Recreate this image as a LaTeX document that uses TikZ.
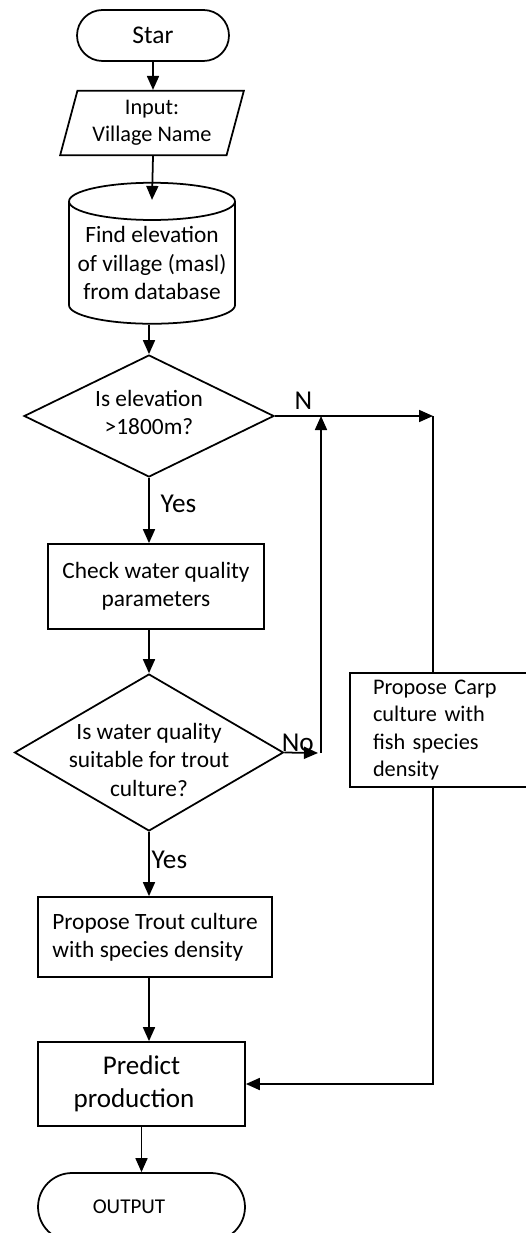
\documentclass[tikz,border=0pt]{standalone}
\usepackage{fontspec}
\setmainfont{Carlito}
\usetikzlibrary{shapes.geometric,shapes.misc,arrows.meta}
% text in a decision box should not make the box grow
\newcommand{\dtext}[2]{\makebox[0pt]{\smash{\raisebox{#1}{\begin{tabular}{@{}c@{}}#2\end{tabular}}}}}

\begin{document}
\begin{tikzpicture}[x=0.02cm,y=-0.02cm,line width=1pt,
    >={Triangle[length=2.8mm,width=2.4mm]},
    every node/.style={font=\fontsize{13.3}{16.2}\selectfont},
    term/.style={draw,rounded rectangle,inner sep=0pt},
    io/.style={draw,trapezium,trapezium left angle=75,trapezium right angle=105,align=center,inner xsep=0.3cm,inner ysep=0.19cm},
    db/.style={draw,cylinder,shape border rotate=90,aspect=0.25,align=center,inner sep=0pt},
    decision/.style={draw,diamond,inner sep=0pt},
    process/.style={draw,rectangle,align=center,inner sep=0pt},
    lbl/.style={font=\fontsize{15.5}{18}\selectfont}]

  \useasboundingbox (0,0) rectangle (526,1233);
  \clip (0,0) rectangle (526,1233);

  % main column
  \node[term,minimum width=3.04cm,minimum height=1.02cm,font=\fontsize{14.5}{17}\selectfont] (start) at (153,35.5) {Star};
  \node[io,font=\fontsize{12.7}{15.5}\selectfont] (input) at (152,123) {Input:\\Village Name};
  \node[db,minimum width=3.32cm,minimum height=2.82cm] (find) at (152,263) {Find elevation\\of village (masl)\\from database};
  \node[decision,minimum width=5cm,minimum height=2.44cm] (elev) at (149,416) {\dtext{-0.1cm}{Is elevation\\>1800m?}};
  \node[process,minimum width=4.32cm,minimum height=1.7cm] (check) at (156,586.5) {Check water quality\\parameters};
  \node[decision,minimum width=5.38cm,minimum height=3.14cm] (quality) at (149,752.5) {\dtext{-0.32cm}{Is water quality\\suitable for trout\\culture?}};
  \node[process,align=left,minimum width=4.68cm,minimum height=1.6cm] (trout) at (155,937) {Propose Trout culture\\with species density};
  \node[process,minimum width=4.14cm,minimum height=1.68cm,font=\fontsize{15.4}{18.8}\selectfont] (predict) at (141.5,1084) {Predict\\production\hspace*{0.3cm}};
  \node[term,minimum width=4.14cm,minimum height=1.36cm,font=\fontsize{12}{14}\selectfont] (output) at (141.5,1207) {OUTPUT\hspace*{0.5cm}};

  % right branch
  \node[process,align=left,text width=2.88cm,inner xsep=0.46cm,minimum height=2.28cm,font=\fontsize{12.7}{15.5}\selectfont] (carp) at (445,730) {Propose Carp\\culture with\\fish species\\density};
  \coordinate (nright) at (433,416);
  \coordinate (loop) at (321,753);

  \draw[->] (start.south) -- (start.south |- input.north);
  \draw[->] (input.south -| start.south) -- ([yshift=-0.36cm]find.north);
  \draw[->] (find.south -| elev.north) -- (elev.north);
  \draw[->] (elev.south) -- node[lbl,right,pos=0.4,xshift=1mm]{Yes} (elev.south |- check.north);
  \draw[->] (check.south -| quality.north) -- (quality.north);
  \draw[->] (quality.south) -- node[lbl,right,pos=0.44,inner sep=1pt]{Yes} (quality.south |- trout.north);
  \draw[->] (quality.south |- trout.south) -- (quality.south |- predict.north);
  \draw[->] (predict.south) -- (output.north);

  \draw[->] (elev.east) -- node[lbl,above,pos=0.18]{N} (nright);
  \draw (nright) -- (nright |- carp.north);
  \draw[->] (quality.east) -- node[lbl,above,pos=0.4,inner sep=0pt]{No} ([xshift=-0.06cm]loop);
  \draw[->] (loop) -- (loop |- nright);
  \draw[->] (carp.south -| nright) |- (predict.east);

\end{tikzpicture}
\end{document}
